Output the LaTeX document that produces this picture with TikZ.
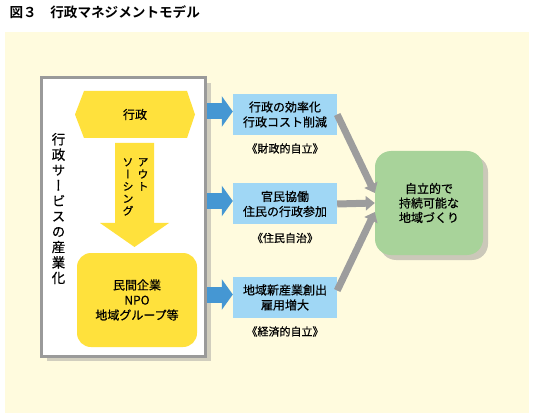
\documentclass[tikz,border=0pt]{standalone}
\usepackage{fontspec}
\setmainfont{Noto Sans CJK JP}[FakeBold=0.6]
\newfontfamily\tatefont{Noto Sans CJK JP}[RawFeature=+vert,FakeBold=0.6]
\newfontfamily\titlefont{Noto Sans CJK JP Bold}
\usetikzlibrary{arrows.meta,shadows}
\definecolor{creambg}{RGB}{255,251,222}
\definecolor{panelgray}{RGB}{154,154,154}
\definecolor{yelfill}{RGB}{255,225,60}
\definecolor{boxblue}{RGB}{160,215,245}
\definecolor{arrblue}{RGB}{69,151,211}
\definecolor{goalgreen}{RGB}{168,211,154}
\definecolor{arrgray}{RGB}{157,157,157}

\begin{document}
\begin{tikzpicture}[x=1pt,y=-1pt,
    panel/.style={draw=panelgray,line width=3pt,fill=white,
      minimum width=164pt,minimum height=278pt,
      drop shadow={shadow xshift=5pt,shadow yshift=-5pt,fill=black!40,opacity=0.45}},
    yelbox/.style={fill=yelfill,rounded corners=14pt,minimum width=120pt,
      minimum height=94pt,align=center,font=\fontsize{12}{15}\selectfont},
    bluebox/.style={fill=boxblue,minimum width=104pt,minimum height=41pt,
      align=center,inner sep=0pt,font=\fontsize{12}{15}\selectfont},
    goalbox/.style={fill=goalgreen,rounded corners=16pt,minimum width=108pt,
      minimum height=104pt,align=center,font=\fontsize{12}{14.5}\selectfont,
      drop shadow={shadow xshift=5pt,shadow yshift=-5pt,fill=black!45,opacity=0.45}},
    note/.style={font=\fontsize{11}{13}\selectfont},
    bluearr/.style={arrblue,line width=16pt,
      -{Triangle[length=11pt,width=30pt]}},
    grayarr/.style={arrgray,line width=7pt,
      -{Triangle[length=9pt,width=14pt]}}]
  \useasboundingbox (0,0) rectangle (534,419);
  \fill[creambg] (5,32) rectangle (529,413);
  \node[anchor=west,font=\titlefont\fontsize{13.6}{16}\selectfont] (title) at (6,12.5)
    {図３　行政マネジメントモデル};
  % left panel
  \node[panel] (svc) at (123.5,217) {};
  \node[align=center,inner sep=0pt,font=\tatefont\fontsize{13.5}{15.4}\selectfont] (sangyo) at (58.5,208.5)
    {行\\政\\サ\\ー\\ビ\\ス\\の\\産\\業\\化};
  \fill[yelfill] (75,114.5) -- (84,91) -- (187,91) -- (195,114.5) -- (187,138) -- (84,138) -- cycle;
  \node[font=\fontsize{12}{15}\selectfont] (gyosei) at (135,114.5) {行政};
  \fill[yelfill] (115,143) -- (154,143) -- (154,223) -- (169,223) -- (134.5,247)
    -- (100,223) -- (115,223) -- cycle;
  \node[anchor=north,align=center,inner sep=0pt,font=\tatefont\fontsize{11}{12.2}\selectfont] (out1) at (143,158)
    {ア\\ウ\\ト};
  \node[anchor=north,align=center,inner sep=0pt,font=\tatefont\fontsize{11}{12.2}\selectfont] (out2) at (128,158)
    {ソ\\ー\\シ\\ン\\グ};
  \node[yelbox] (minkan) at (137,300) {民間企業\\NPO\\地域グループ等};
  % effects
  \foreach \n/\y/\txt/\lab in {1/114.5/{行政の効率化\\行政コスト削減}/{《財政的自立》},
      2/204/{官民協働\\住民の行政参加}/{《住民自治》},
      3/297.5/{地域新産業創出\\雇用増大}/{《経済的自立》}} {
    \node[bluebox] (b\n) at (285,\y) {\txt};
    \node[note] (l\n) at (285,\y+34) {\lab};
    \draw[bluearr] ([yshift=3pt]svc.east |- b\n.west) -- ([yshift=3pt]b\n.west);
  }
  \node[goalbox] (goal) at (429,203) {自立的で\\持続可能な\\地域づくり};
  \draw[grayarr] (b1.east) -- ([yshift=10pt]goal.west);
  \draw[grayarr] (b2.east) -- (goal.west);
  \draw[grayarr] ([yshift=7pt]b3.east) -- ([yshift=-9pt]goal.west);
\end{tikzpicture}
\end{document}
